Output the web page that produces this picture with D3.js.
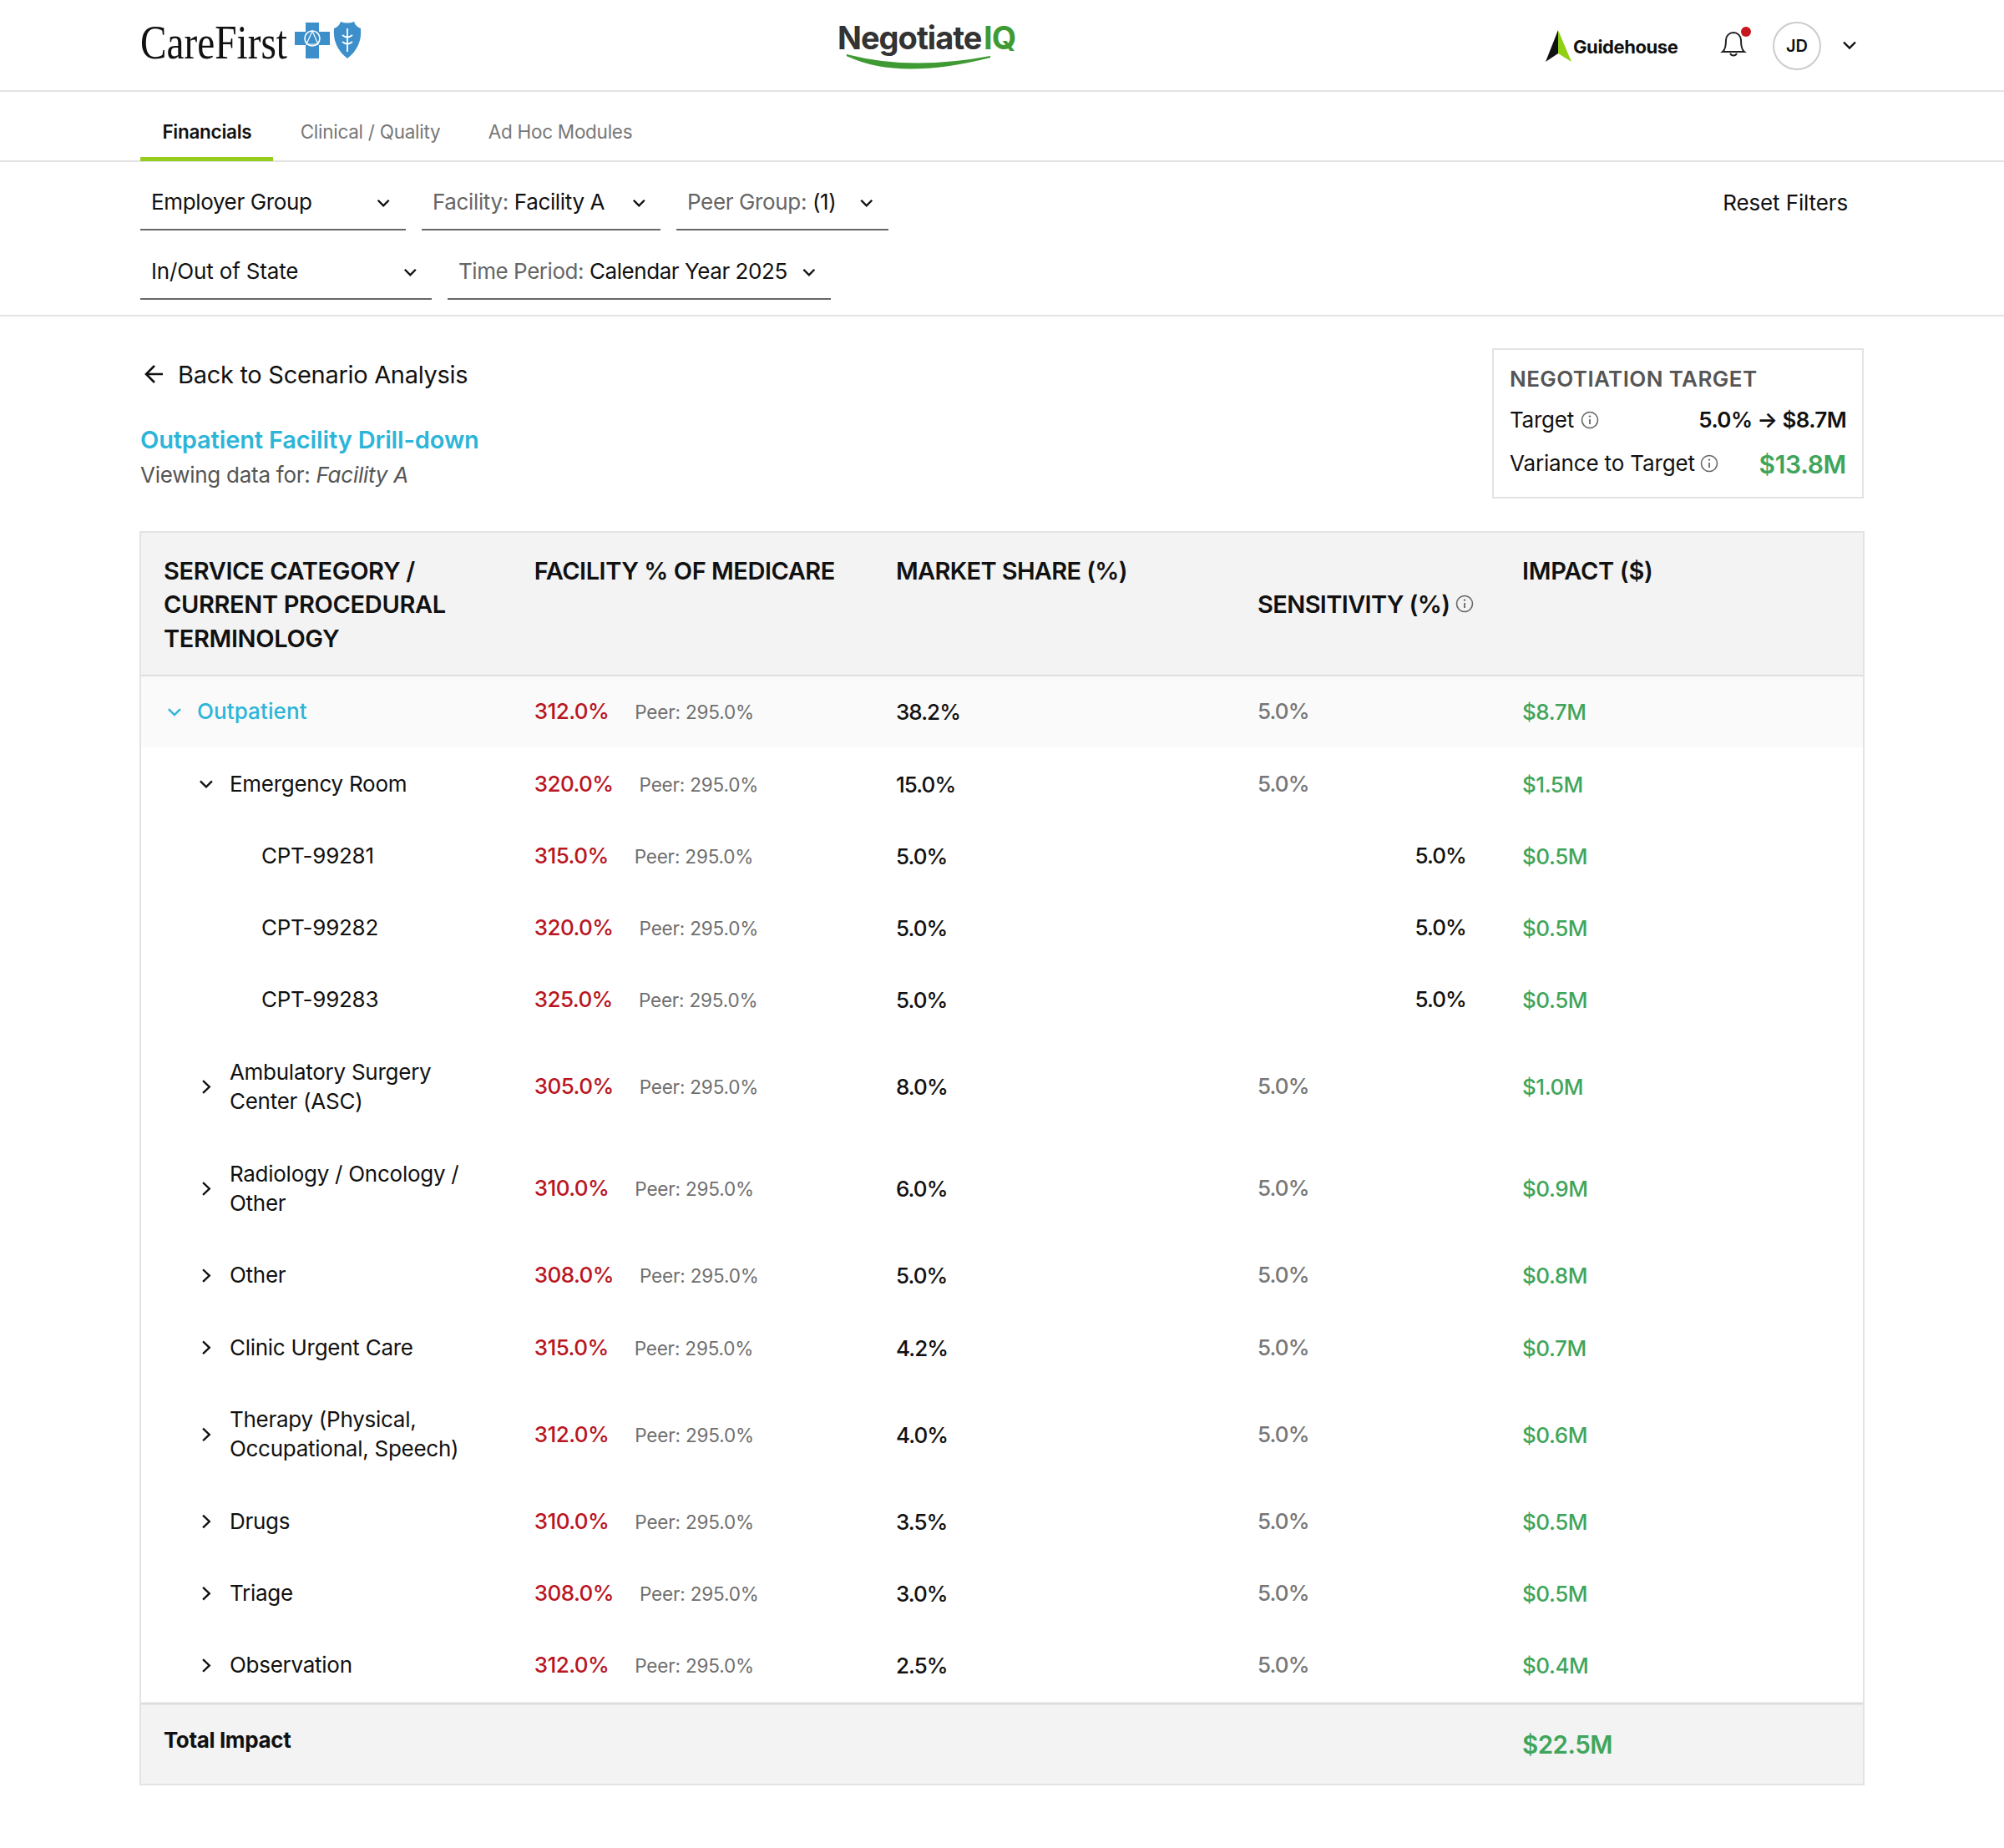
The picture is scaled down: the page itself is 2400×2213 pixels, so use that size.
<!DOCTYPE html>
<html><head><meta charset="utf-8">
<script src="https://cdn.jsdelivr.net/npm/d3@7/dist/d3.min.js"></script>
<style>html,body{margin:0;padding:0;background:#fff}svg{display:block}text{font-family:Inter,"Noto Sans",sans-serif}</style>
</head><body><div id="c"></div>
<script>
// ---- data ----
const labels=["Outpatient","Emergency Room","CPT-99281","CPT-99282","CPT-99283",["Ambulatory Surgery","Center (ASC)"],["Radiology / Oncology /","Other"],"Other","Clinic Urgent Care",["Therapy (Physical,","Occupational, Speech)"],"Drugs","Triage","Observation"];
const levels=[0,1,2,2,2,1,1,1,1,1,1,1,1];
const expanded=[true,true,null,null,null,false,false,false,false,false,false,false,false];
const facilityPct=[312,320,315,320,325,305,310,308,315,312,310,308,312];
const peerPct=[295,295,295,295,295,295,295,295,295,295,295,295,295];
const marketShare=[38.2,15,5,5,5,8,6,5,4.2,4,3.5,3,2.5];
const sensitivity=[5,5,5,5,5,5,5,5,5,5,5,5,5];
const impact=[8.7,1.5,0.5,0.5,0.5,1.0,0.9,0.8,0.7,0.6,0.5,0.5,0.4];
const totalImpact=22.5;
const headers=[["SERVICE CATEGORY /","CURRENT PROCEDURAL","TERMINOLOGY"],["FACILITY % OF MEDICARE"],["MARKET SHARE (%)"],["SENSITIVITY (%)"],["IMPACT ($)"]];
const tabs=["Financials","Clinical / Quality","Ad Hoc Modules"];

// ---- layout ----
const W=2400,H=2213,S=2400/1568;
const svg=d3.select("#c").append("svg").attr("width",W).attr("height",H).attr("viewBox",[0,0,W,H]);
const c={ink:"#111",grey:"#6f6f6f",line:"#e3e3e3",band:"#f3f3f3",red:"#b9161f",green:"#3fa55b",cyan:"#2cb5d9",lime:"#96cc1e"};
function T(x,y,s,o={}){
  return svg.append("text").attr("x",x).attr("y",y).attr("dy",".36em").text(s)
   .attr("font-size",o.size||26).attr("font-weight",o.w||400).attr("fill",o.fill||c.ink)
   .attr("text-anchor",o.a||"start").attr("letter-spacing",o.ls==null?"-0.01em":o.ls).attr("font-style",o.i||null);
}
function R(x,y,w,h,f,st){return svg.append("rect").attr("x",x).attr("y",y).attr("width",w).attr("height",h).attr("fill",f).attr("stroke",st||"none").attr("stroke-width",st?2:null);}
function L(x1,x2,y,col,sw){svg.append("line").attr("x1",x1).attr("x2",x2).attr("y1",y).attr("y2",y).attr("stroke",col).attr("stroke-width",sw||2);}
function chev(x,y,dir,col,s=7){
  const d=dir==="down"?`M${x-s},${y-s*.5}L${x},${y+s*.5}L${x+s},${y-s*.5}`:`M${x-s*.55},${y-s*1.05}L${x+s*.55},${y}L${x-s*.55},${y+s*1.05}`;
  svg.append("path").attr("d",d).attr("fill","none").attr("stroke",col||c.ink).attr("stroke-width",2.4);
}
function info(x,y){
  svg.append("circle").attr("cx",x).attr("cy",y).attr("r",9.5).attr("fill","none").attr("stroke","#666").attr("stroke-width",1.6);
  svg.append("line").attr("x1",x).attr("x2",x).attr("y1",y-1).attr("y2",y+5).attr("stroke","#666").attr("stroke-width",1.8);
  svg.append("circle").attr("cx",x).attr("cy",y-4.4).attr("r",1.2).attr("fill","#666");
}

// ---- top header ----
L(0,W,109,c.line);
T(168,49,"CareFirst",{size:58,fill:"#111",ls:0}).style("font-family","'Liberation Serif',serif").attr("textLength",176).attr("lengthAdjust","spacingAndGlyphs");
svg.append("path").attr("d","M353,38h13v-11h16v11h13v16h-13v16h-16v-16h-13z").attr("fill","#3d8fcb");
svg.append("circle").attr("cx",374).attr("cy",46).attr("r",9).attr("fill","none").attr("stroke","#fff").attr("stroke-width",1.6);
svg.append("path").attr("d","M374,37L381,53H367z").attr("fill","none").attr("stroke","#fff").attr("stroke-width",1.2);
svg.append("path").attr("d","M400,34q6,-2 8,-8q8,3 16,0q2,6 8,8q2,22 -16,36q-18,-14 -16,-36z").attr("fill","#3d8fcb");
svg.append("path").attr("d","M416,34v28M410,42q6,5 12,0M410,50q6,5 12,0").attr("stroke","#fff").attr("stroke-width",1.8).attr("fill","none");
T(1003,45,"Negotiate",{size:38,w:700,fill:"#333",ls:-1});
T(1178,45,"IQ",{size:38,w:700,fill:"#3f9a34",ls:-1});
svg.append("path").attr("d","M1014,66Q1075,96 1186,68Q1090,86 1014,66z").attr("fill","#3f9a34").attr("stroke","#3f9a34").attr("stroke-width",2);
svg.append("path").attr("d","M1866,36L1851,74L1866,64z").attr("fill","#111");
svg.append("path").attr("d","M1866,36L1882,74L1866,64z").attr("fill","#8fd014");
T(1884,56.5,"Guidehouse",{size:22,w:700,ls:-.4});
svg.append("path").attr("d","M2063,62q4,-3 4,-14a9,9 0 0 1 18,0q0,11 4,14z").attr("fill","none").attr("stroke","#222").attr("stroke-width",2);
svg.append("path").attr("d","M2072,64a4.5,4.5 0 0 0 8,0").attr("fill","none").attr("stroke","#222").attr("stroke-width",2);
svg.append("circle").attr("cx",2091).attr("cy",38).attr("r",6).attr("fill","#c8161d");
svg.append("circle").attr("cx",2152).attr("cy",55).attr("r",28).attr("fill","#fff").attr("stroke","#ccc").attr("stroke-width",2);
T(2152,55,"JD",{size:20,w:600,a:"middle",ls:0});
chev(2215,54,"down",c.ink,7);

// ---- tabs ----
const tabX=[127,235,382].map(d=>d*S);
tabs.forEach((t,i)=>T(tabX[i],157.5,t,{size:22.5,w:i?400:600,fill:i?"#777":c.ink,ls:"-0.012em"}));
L(0,W,193,c.line);
R(168,188,159,5,c.lime);

// ---- filters ----
const flt=(x,y,x2,cx,parts,ls)=>{
  const t=T(x+13,y,"",{size:26,ls:ls||"-0.014em"});
  parts.forEach(p=>t.append("tspan").text(p[0]).attr("fill",p[1]?"#666":c.ink));
  chev(cx*S,y+1,"down",c.ink,6.5);
  svg.append("line").attr("x1",x).attr("x2",x2).attr("y1",y+33).attr("y2",y+33).attr("stroke","#666").attr("stroke-width",2);
};
flt(168,242,486,300,[["Employer Group"]]);
flt(505,242,791,500,[["Facility: ",1],["Facility A"]]);
flt(810,242,1064,678,[["Peer Group: ",1],["(1)"]]);
flt(168,325,517,321,[["In/Out of State"]],"-0.006em");
flt(536,325,995,633,[["Time Period: ",1],["Calendar Year 2025"]],"-0.017em");
T(2213,243,"Reset Filters",{size:26,a:"end",ls:"-0.005em"});
L(0,W,378,c.line);

// ---- back + title ----
svg.append("path").attr("d","M195,448H175M185,438L175,448L185,458").attr("fill","none").attr("stroke",c.ink).attr("stroke-width",2.6);
T(213,448.5,"Back to Scenario Analysis",{size:29,ls:"-0.01em"});
T(168,526.5,"Outpatient Facility Drill-down",{size:29,w:600,fill:c.cyan,ls:"-0.005em"});
const vt=T(168,568.5,"Viewing data for: ",{size:26,fill:"#555"});
vt.append("tspan").text("Facility A").attr("font-style","italic");

// ---- negotiation box ----
R(1788,418,443,178,"#fff",c.line);
T(1808,454,"NEGOTIATION TARGET",{size:26,w:600,fill:"#555",ls:.42});
T(1808,503,"Target",{size:26});info(1904,503);
T(2211,503,"5.0% → $8.7M",{size:26,w:600,a:"end",ls:"-0.024em"});
T(1808,555,"Variance to Target",{size:26,ls:"-0.006em"});info(2047,555);
T(2211,556,"$13.8M",{size:30,w:600,fill:c.green,a:"end"});

// ---- table ----
const colX=d3.scaleOrdinal().domain(d3.range(5)).range([128,418,701,984,1191].map(d=>d*S));
const left=168,right=2232,headTop=637,headBot=809;
R(left,headTop,right-left,headBot-headTop,c.band);
const hLine=[446.5,473,499.5].map(d=>d*S);
const headLs=["-0.012em","-0.016em","-0.022em","-0.022em","-0.010em"];
headers.forEach((h,i)=>h.forEach((s,j)=>T(colX(i),i===3?hLine[1]:hLine[j],s,{size:29,w:600,ls:headLs[i]})));
info(1754,723);

// rows stacked from line counts
const single=86.2,dbl=122;
const rowH=labels.map(l=>Array.isArray(l)?dbl:single);
const y0=809;
const cum=d3.cumsum(rowH);
const rowY=i=>y0+(i?cum[i-1]:0)+rowH[i]/2;
R(left,y0,right-left,single,"#fafafa");
const pct=d3.format(".1f"),money=v=>"$"+d3.format(".1f")(v)+"M";
const numLs="-0.036em";
labels.forEach((lab,i)=>{
  const y=rowY(i),lv=levels[i],x=colX(0)+lv*38;
  const tx=x+(lv===0?40:41);
  const col=lv===0?c.cyan:c.ink;
  if(expanded[i]!==null) chev(x+13,y+.5,expanded[i]?"down":"right",col,7);
  if(Array.isArray(lab)){T(tx,y-17.5,lab[0],{size:26});T(tx,y+17.5,lab[1],{size:26});}
  else T(tx,y,lab,{size:26,w:lv===0?500:400,fill:col,ls:lv===0?"0.004em":null});
  const f=T(colX(1),y,pct(facilityPct[i])+"%",{size:26,w:500,fill:c.red,ls:"-0.022em"});
  f.append("tspan").attr("dx",31).attr("font-size",22.5).attr("font-weight",400).attr("fill",c.grey).attr("letter-spacing","-0.008em").text("Peer: "+pct(peerPct[i])+"%");
  T(colX(2),y+1,pct(marketShare[i])+"%",{size:26,w:500,ls:numLs});
  if(lv===2) T(1756,y,pct(sensitivity[i])+"%",{size:26,w:500,a:"end",ls:numLs});
  else T(colX(3),y,pct(sensitivity[i])+"%",{size:26,w:500,fill:"#777",ls:numLs});
  T(colX(4),y+1,money(impact[i]),{size:26,w:500,fill:c.green,ls:"-0.016em"});
});
// total row
const totTop=2040,bot=2137;
R(left,totTop,right-left,bot-totTop,c.band);
L(left,right,totTop,"#ddd",3);
T(colX(0),2083.5,"Total Impact",{size:26,w:700,ls:"-0.014em"});
T(colX(4),2089,money(totalImpact),{size:29.5,w:600,fill:c.green,ls:"-0.016em"});
// table frame
L(left,right,headBot,"#dedede");
R(left,headTop,right-left,bot-headTop,"none",c.line);
</script></body></html>
